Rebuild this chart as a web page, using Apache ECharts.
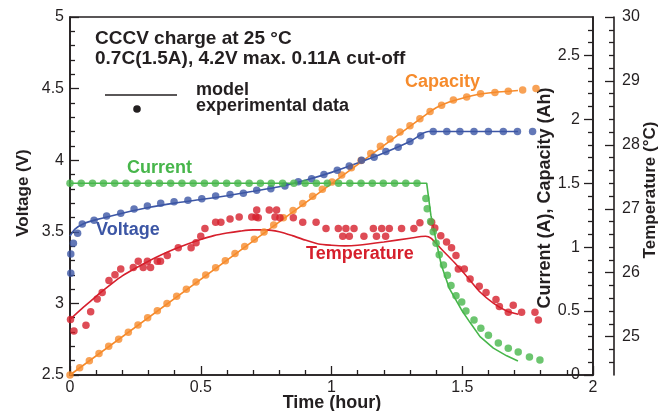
<!DOCTYPE html>
<html><head><meta charset="utf-8">
<script src="https://cdn.jsdelivr.net/npm/echarts@6/dist/echarts.min.js"></script>
<style>html,body{margin:0;padding:0;background:#fff}#c{width:663px;height:411px}</style>
</head><body><div id="c"></div><script>
// ---- tick labels ----
const timeTicks = [0, 0.5, 1, 1.5, 2];
const voltTicks = [2.5, 3, 3.5, 4, 4.5, 5];
const currTicks = [0, 0.5, 1, 1.5, 2, 2.5];
const currMinor = [0.1,0.2,0.3,0.4,0.6,0.7,0.8,0.9,1.1,1.2,1.3,1.4,1.6,1.7,1.8,1.9,2.1,2.2,2.3,2.4,2.6,2.7];
const tempTicks = [25, 26, 27, 28, 29, 30];
const tempMinor = [24.6,24.8,25.2,25.4,25.6,25.8,26.2,26.4,26.6,26.8,27.2,27.4,27.6,27.8,28.2,28.4,28.6,28.8,29.2,29.4,29.6,29.8];

// ---- data: [time (hour), value] ----
const voltModel = [[0,3.47],[0.02,3.52],[0.05,3.555],[0.1,3.585],[0.2,3.63],[0.3,3.67],[0.4,3.70],[0.5,3.725],[0.6,3.752],[0.7,3.783],[0.8,3.815],[0.9,3.86],[1.0,3.915],[1.1,3.98],[1.2,4.05],[1.3,4.13],[1.37,4.2],[1.713,4.2]];
const voltDots = [[0.003,3.21],[0.003,3.345],[0.013,3.42],[0.029,3.49],[0.047,3.555],[0.092,3.58],[0.140,3.61],[0.194,3.63],[0.245,3.66],[0.296,3.68],[0.347,3.70],[0.398,3.71],[0.451,3.72],[0.504,3.73],[0.557,3.75],[0.612,3.76],[0.663,3.77],[0.714,3.79],[0.768,3.80],[0.822,3.82],[0.873,3.85],[0.924,3.87],[0.971,3.90],[1.022,3.93],[1.068,3.96],[1.115,4.00],[1.163,4.02],[1.208,4.06],[1.255,4.09],[1.300,4.13],[1.341,4.17],[1.389,4.20],[1.441,4.20],[1.491,4.20],[1.545,4.20],[1.600,4.20],[1.657,4.20],[1.711,4.20],[1.769,4.20]];

const currModel = [[0,1.5],[1.364,1.5],[1.38,1.25],[1.40,1.05],[1.42,0.86],[1.45,0.68],[1.50,0.50],[1.53,0.41],[1.568,0.30],[1.619,0.21],[1.67,0.15],[1.713,0.11]];
const currDots = [[0,1.5],[0.043,1.5],[0.086,1.5],[0.128,1.5],[0.171,1.5],[0.214,1.5],[0.257,1.5],[0.300,1.5],[0.342,1.5],[0.385,1.5],[0.428,1.5],[0.471,1.5],[0.514,1.5],[0.556,1.5],[0.599,1.5],[0.642,1.5],[0.685,1.5],[0.728,1.5],[0.770,1.5],[0.813,1.5],[0.856,1.5],[0.899,1.5],[0.942,1.5],[0.984,1.5],[1.027,1.5],[1.070,1.5],[1.113,1.5],[1.156,1.5],[1.198,1.5],[1.241,1.5],[1.284,1.5],[1.327,1.5],
  [1.361,1.38],[1.366,1.30],[1.379,1.20],[1.389,1.12],[1.400,1.03],[1.412,0.94],[1.428,0.86],[1.443,0.78],[1.457,0.70],[1.476,0.62],[1.498,0.57],[1.514,0.50],[1.545,0.43],[1.571,0.365],[1.600,0.31],[1.638,0.25],[1.676,0.21],[1.714,0.18],[1.757,0.14],[1.797,0.117]];

const capModel = [[0,0],[1.364,2.04],[1.40,2.09],[1.45,2.135],[1.50,2.165],[1.55,2.19],[1.60,2.205],[1.65,2.215],[1.713,2.225]];
const capDots = [[0,0],[0.037,0.056],[0.074,0.112],[0.111,0.168],[0.148,0.224],[0.186,0.279],[0.223,0.335],[0.260,0.391],[0.297,0.447],[0.334,0.503],[0.371,0.559],[0.408,0.615],[0.445,0.671],[0.482,0.727],[0.519,0.783],[0.557,0.839],[0.594,0.894],[0.631,0.950],[0.668,1.006],[0.705,1.062],[0.742,1.118],[0.779,1.174],[0.816,1.230],[0.853,1.286],[0.890,1.342],[0.928,1.398],[0.965,1.453],[1.002,1.509],[1.039,1.565],[1.076,1.621],[1.113,1.677],[1.150,1.733],[1.187,1.789],[1.224,1.845],[1.262,1.90],
  [1.300,1.95],[1.338,2.005],[1.377,2.06],[1.421,2.11],[1.466,2.15],[1.517,2.175],[1.570,2.20],[1.625,2.21],[1.676,2.22],[1.731,2.23],[1.782,2.24]];

const tempModel = [[0,25.27],[0.04,25.42],[0.08,25.56],[0.12,25.70],[0.16,25.83],[0.2,25.95],[0.25,26.07],[0.3,26.18],[0.35,26.28],[0.4,26.37],[0.45,26.45],[0.5,26.52],[0.55,26.58],[0.6,26.62],[0.65,26.65],[0.7,26.67],[0.75,26.67],[0.8,26.64],[0.85,26.58],[0.9,26.51],[0.95,26.45],[1.0,26.43],[1.05,26.42],[1.1,26.43],[1.2,26.48],[1.3,26.54],[1.36,26.57],[1.38,26.54],[1.42,26.37],[1.47,26.16],[1.52,25.93],[1.57,25.69],[1.62,25.52],[1.67,25.40],[1.714,25.35]];
const tempDots = [[0.002,25.27],[0.015,25.09],[0.061,25.18],[0.079,25.39],[0.104,25.59],[0.123,25.69],[0.149,25.88],[0.172,25.97],[0.194,26.06],[0.242,26.08],[0.261,26.18],[0.280,26.08],[0.296,26.18],[0.308,26.08],[0.334,26.18],[0.346,26.18],[0.372,26.27],[0.414,26.39],[0.463,26.39],[0.482,26.47],[0.500,26.57],[0.516,26.69],[0.557,26.79],[0.577,26.79],[0.612,26.84],[0.647,26.87],[0.695,26.87],[0.711,26.87],[0.714,26.98],[0.720,26.86],[0.762,26.98],[0.790,26.98],[0.784,26.87],[0.803,26.86],[0.854,26.86],[0.890,26.79],[0.941,26.79],[0.979,26.69],[1.026,26.69],[1.055,26.69],[1.086,26.69],[1.043,26.57],[1.068,26.57],[1.124,26.57],[1.160,26.69],[1.172,26.57],[1.192,26.69],[1.207,26.57],[1.221,26.69],[1.268,26.69],[1.315,26.69],[1.338,26.78],[1.383,26.79],[1.395,26.70],[1.418,26.58],[1.440,26.48],[1.459,26.39],[1.476,26.27],[1.485,26.06],[1.508,26.06],[1.530,25.90],[1.565,25.79],[1.591,25.69],[1.629,25.58],[1.642,25.47],[1.676,25.38],[1.695,25.49],[1.727,25.38],[1.778,25.38],[1.791,25.26]];

const BLUE = '#3c56a5', GREEN = '#47b64b', RED = '#d61f2c', ORANGE = '#f68b2c', INK = '#231f20';
const FONT = '"Liberation Sans", Arial, Helvetica, sans-serif';

const chart = echarts.init(document.getElementById('c'), null, {renderer: 'canvas'});
const axLine = {show: true, lineStyle: {color: INK, width: 1.6}};
const tickStyle = {color: INK, width: 1.3};
const lbl = {fontSize: 16, color: INK, fontFamily: FONT};

function lineSeries(name, data, yIdx, color) {
  return {name, type: 'line', data, yAxisIndex: yIdx, showSymbol: false, symbol: 'none',
    smooth: 0.25, lineStyle: {color, width: 1.6}, z: 2, animation: false};
}
function dotSeries(name, data, yIdx, color) {
  return {name, type: 'scatter', data, yAxisIndex: yIdx, symbol: 'circle', symbolSize: 7.5,
    itemStyle: {color}, z: 3, animation: false};
}

const option = {
  animation: false,
  backgroundColor: '#fff',
  grid: {left: 70, top: 17, width: 523, height: 358, show: true, borderColor: INK, borderWidth: 1.6, backgroundColor: 'transparent', containLabel: false, outerBoundsMode: 'none'},
  xAxis: {type: 'value', min: 0, max: 2, interval: 0.5, axisLine: axLine,
    axisTick: {inside: true, length: 9, lineStyle: tickStyle},
    minorTick: {show: true, splitNumber: 5, length: 5, lineStyle: tickStyle},
    splitLine: {show: false}, minorSplitLine: {show: false},
    axisLabel: Object.assign({margin: 5, customValues: timeTicks}, lbl)},
  yAxis: [
    {type: 'value', min: 2.5, max: 5, interval: 0.5, position: 'left', axisLine: axLine,
      axisTick: {inside: true, length: 9, lineStyle: tickStyle},
      minorTick: {show: true, splitNumber: 5, length: 5, lineStyle: tickStyle},
      splitLine: {show: false},
      axisLabel: Object.assign({margin: 6, customValues: voltTicks}, lbl)},
    {type: 'value', min: 0, max: 2.8, position: 'right', axisLine: axLine,
      axisTick: {inside: true, length: 9, lineStyle: tickStyle, customValues: currTicks},
      splitLine: {show: false},
      axisLabel: Object.assign({inside: true, margin: 13, customValues: currTicks}, lbl)},
    {type: 'value', min: 0, max: 2.8, position: 'right', axisLine: {show: false},
      axisTick: {inside: true, length: 5, lineStyle: tickStyle, customValues: currMinor},
      splitLine: {show: false}, axisLabel: {show: false}},
    {type: 'value', min: 24.4, max: 30, position: 'right', offset: 21, axisLine: axLine,
      axisTick: {inside: true, length: 9, lineStyle: tickStyle, customValues: tempTicks},
      splitLine: {show: false},
      axisLabel: Object.assign({margin: 8, customValues: tempTicks}, lbl)},
    {type: 'value', min: 24.4, max: 30, position: 'right', offset: 21, axisLine: {show: false},
      axisTick: {inside: true, length: 5, lineStyle: tickStyle, customValues: tempMinor},
      splitLine: {show: false}, axisLabel: {show: false}}
  ],
  series: [
    lineSeries('Capacity model', capModel, 1, ORANGE),
    lineSeries('Voltage model', voltModel, 0, BLUE),
    lineSeries('Temperature model', tempModel, 3, RED),
    Object.assign(lineSeries('Current model', currModel, 1, GREEN), {smooth: false}),
    dotSeries('Capacity data', capDots, 1, ORANGE),
    dotSeries('Voltage data', voltDots, 0, BLUE),
    dotSeries('Temperature data', tempDots, 3, RED),
    dotSeries('Current data', currDots, 1, GREEN)
  ],
  graphic: [
    {type: 'text', x: 95, y: 39, style: {text: 'CCCV charge at 25 °C', fontSize: 19, fontWeight: 'bold', fontFamily: FONT, fill: INK, align: 'left', verticalAlign: 'middle'}},
    {type: 'text', x: 95, y: 59, style: {text: '0.7C(1.5A), 4.2V max. 0.11A cut-off', fontSize: 19, fontWeight: 'bold', fontFamily: FONT, fill: INK, align: 'left', verticalAlign: 'middle'}},
    {type: 'line', shape: {x1: 105, y1: 95, x2: 177, y2: 95}, style: {stroke: INK, lineWidth: 1.6}},
    {type: 'circle', shape: {cx: 137, cy: 109, r: 3.8}, style: {fill: INK}},
    {type: 'text', x: 196, y: 90, style: {text: 'model', fontSize: 18, fontWeight: 'bold', fontFamily: FONT, fill: INK, align: 'left', verticalAlign: 'middle'}},
    {type: 'text', x: 196, y: 106, style: {text: 'experimental data', fontSize: 18, fontWeight: 'bold', fontFamily: FONT, fill: INK, align: 'left', verticalAlign: 'middle'}},
    {type: 'text', x: 127, y: 168, style: {text: 'Current', fontSize: 18, fontWeight: 'bold', fontFamily: FONT, fill: GREEN, align: 'left', verticalAlign: 'middle'}},
    {type: 'text', x: 96, y: 230, style: {text: 'Voltage', fontSize: 18, fontWeight: 'bold', fontFamily: FONT, fill: BLUE, align: 'left', verticalAlign: 'middle'}},
    {type: 'text', x: 306, y: 254, style: {text: 'Temperature', fontSize: 18, fontWeight: 'bold', fontFamily: FONT, fill: RED, align: 'left', verticalAlign: 'middle'}},
    {type: 'text', x: 405, y: 82, style: {text: 'Capacity', fontSize: 18, fontWeight: 'bold', fontFamily: FONT, fill: ORANGE, align: 'left', verticalAlign: 'middle'}},
    {type: 'text', x: 332, y: 403, style: {text: 'Time (hour)', fontSize: 18, fontWeight: 'bold', fontFamily: FONT, fill: INK, align: 'center', verticalAlign: 'middle'}},
    {type: 'text', x: 23, y: 193, rotation: Math.PI / 2, style: {text: 'Voltage (V)', fontSize: 17, fontWeight: 'bold', fontFamily: FONT, fill: INK, align: 'center', verticalAlign: 'middle'}},
    {type: 'text', x: 545, y: 198, rotation: Math.PI / 2, style: {text: 'Current (A), Capacity (Ah)', fontSize: 18, fontWeight: 'bold', fontFamily: FONT, fill: INK, align: 'center', verticalAlign: 'middle'}},
    {type: 'text', x: 650, y: 190, rotation: Math.PI / 2, style: {text: 'Temperature (°C)', fontSize: 17, fontWeight: 'bold', fontFamily: FONT, fill: INK, align: 'center', verticalAlign: 'middle'}}
  ]
};
chart.setOption(option);
</script></body></html>
